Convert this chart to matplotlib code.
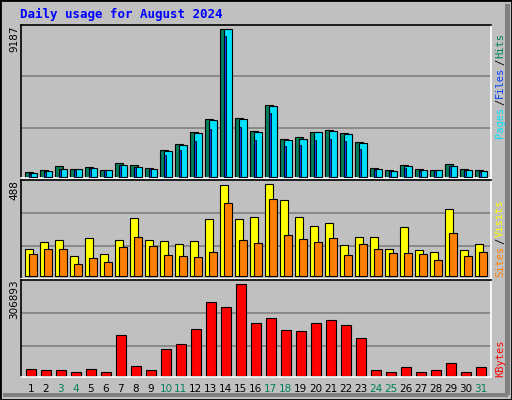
import matplotlib
matplotlib.use("Agg")
import matplotlib.pyplot as plt
from matplotlib.patches import Rectangle
import numpy as np

days = list(range(1, 32))
hits = [332,457,707,520,644,457,894,769,582,1704,2078,2826,3637,9187,3699,2888,4509,2390,2514,2826,2951,2764,2203,582,457,769,520,457,831,520,457]
files = [270,395,520,520,582,457,748,644,520,1642,2016,2764,3574,9187,3637,2826,4447,2327,2390,2826,2888,2701,2140,520,395,707,457,457,707,457,395]
pages = [208,332,457,416,520,416,748,644,520,1392,1704,2265,3013,8769,3138,2327,4011,1953,2016,2327,2390,2265,1766,457,395,582,395,395,707,395,332]
sites = [143,180,191,106,202,117,191,308,191,186,170,186,302,483,302,313,488,403,313,265,281,164,207,207,143,260,138,127,355,138,170]
visits = [117,143,143,64,95,74,154,207,159,111,106,101,127,387,191,175,408,217,196,180,202,111,170,143,122,122,117,85,228,106,127]
kbytes = [21280,17920,17920,11200,21280,11200,135520,31360,17920,88480,105280,155680,246400,229600,306893,175840,192640,152320,148960,175840,185920,169120,125440,17920,11200,28000,11200,17920,41440,11200,28000]
weekend_days = [3,4,10,11,17,18,24,25,31]

BG = "#C0C0C0"
C_HITS = "#00805C"; C_FILES = "#0040FF"; C_PAGES = "#00E0FF"
C_SITES = "#FF8000"; C_VISITS = "#FFFF00"; C_KB = "#FF0000"

fig = plt.figure(figsize=(5.12, 4.0), dpi=100)
fig.patch.set_facecolor(BG)
W, H = 512, 400
def fx(x): return x / W
def fy(y): return 1 - y / H

fig.add_artist(Rectangle((0, 0), 1, 1, transform=fig.transFigure, fill=False, edgecolor="black", lw=2))
fig.add_artist(Rectangle((fx(505), fy(395)), fx(5), 1 - fy(395) - 0.01, transform=fig.transFigure, color="#808080", lw=0))
fig.add_artist(Rectangle((fx(3), fy(397)), fx(505), fy(393) - fy(397), transform=fig.transFigure, color="#808080", lw=0))

x0, x1 = 20.7, 490.7
xl = (0.32, 31.65)
d = np.array(days)

def mkax(ytop, ybot, ylim, grids):
    ax = fig.add_axes([fx(x0), fy(ybot), fx(x1 - x0), (ybot - ytop) / H])
    ax.set_facecolor(BG)
    ax.set_xlim(*xl)
    ax.set_ylim(*ylim)
    ax.set_xticks([]); ax.set_yticks([])
    for g in grids:
        ax.axhline(g, color="#808080", lw=1.2, zorder=1)
    ax.spines["top"].set_color("black"); ax.spines["left"].set_color("black")
    ax.spines["bottom"].set_color("white"); ax.spines["right"].set_color("white")
    for s in ax.spines.values():
        s.set_linewidth(1.2)
    return ax

ax1 = mkax(25, 178, (-62, 9455), [3075, 6255])
ax1.bar(d - 0.39, hits, width=0.5, align="edge", color=C_HITS, edgecolor="black", lw=0.8, zorder=2)
ax1.bar(d - 0.1, files, width=0.5, align="edge", color=C_PAGES, edgecolor="black", lw=0.8, zorder=3)
ax1.bar(d - 0.1, pages, width=0.12, align="edge", color=C_FILES, edgecolor="black", lw=0.6, zorder=4)

ax2 = mkax(180, 279.3, (-16, 509), [161, 334])
ax2.bar(d - 0.39, sites, width=0.5, align="edge", color=C_VISITS, edgecolor="black", lw=0.8, zorder=2)
ax2.bar(d - 0.12, visits, width=0.5, align="edge", color=C_SITES, edgecolor="black", lw=0.8, zorder=3)

ax3 = mkax(280.3, 376.7, (-3360, 320320), [98560, 209440])
ax3.bar(d - 0.33, kbytes, width=0.66, align="edge", color=C_KB, edgecolor="black", lw=0.8, zorder=2)

for dd in days:
    xp = x0 + (dd - xl[0]) / (xl[1] - xl[0]) * (x1 - x0)
    fig.text(fx(xp), fy(389), str(dd), ha="center", va="center", fontsize=7.5,
             color=C_HITS if dd in weekend_days else "black", family="DejaVu Sans")

fig.text(fx(20), fy(14), "Daily usage for August 2024", color="#0000FF", fontsize=9,
         fontweight="bold", family="DejaVu Sans Mono", ha="left", va="center")

for txt, yc in [(str(max(hits)), 39), (str(max(sites)), 190), (str(max(kbytes)), 299)]:
    fig.text(fx(14), fy(yc), txt, rotation=90, ha="center", va="center", fontsize=7.5, color="black")

def rlabel(parts, y_bottom):
    y = y_bottom
    for txt, col in parts:
        h = len(txt) * 6 if txt != "/" else 6
        fig.text(fx(500), fy(y - h / 2), txt, rotation=90, ha="center", va="center",
                 fontsize=7.5, color=col, family="DejaVu Sans Mono")
        y -= h + 2

rlabel([("Pages", C_PAGES), ("/", "black"), ("Files", C_FILES), ("/", "black"), ("Hits", C_HITS)], 137)
rlabel([("Sites", C_SITES), ("/", "black"), ("Visits", C_VISITS)], 276)
rlabel([("KBytes", C_KB)], 376)

fig.savefig("out.png", dpi=100, facecolor=BG)
